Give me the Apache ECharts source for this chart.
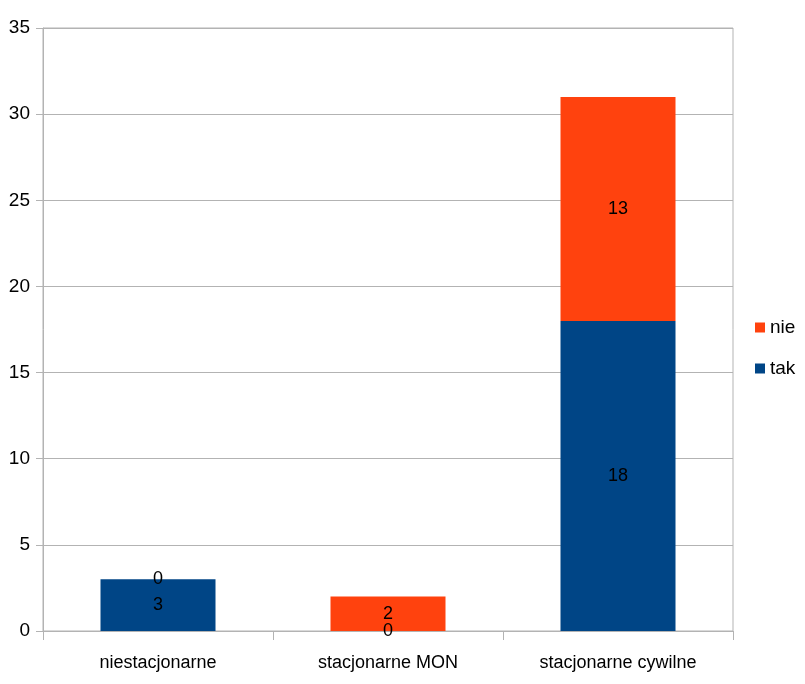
<!DOCTYPE html>
<html><head><meta charset="utf-8">
<script src="https://cdn.jsdelivr.net/npm/echarts@6/dist/echarts.min.js"></script>
<style>html,body{margin:0;padding:0;background:#fff}#c{width:805px;height:684px}</style>
</head><body><div id="c"></div>
<script>
var categories = ['niestacjonarne', 'stacjonarne MON', 'stacjonarne cywilne'];
var takValues = [3, 0, 18];
var nieValues = [0, 2, 13];
var FONT = '"Liberation Sans Narrow", "Liberation Sans", sans-serif';
var chart = echarts.init(document.getElementById('c'));
var lbl = {show: true, position: 'inside', color: '#000', fontFamily: FONT, fontSize: 18};
chart.setOption({
  animation: false,
  textStyle: {fontFamily: FONT},
  grid: {left: 43, right: 72, top: 28, bottom: 53, show: true, borderColor: '#b3b3b3', borderWidth: 1},
  legend: {
    orient: 'vertical', left: 750, top: 313, data: ['nie', 'tak'],
    itemWidth: 10, itemHeight: 10, itemGap: 22, icon: 'rect',
    textStyle: {fontFamily: FONT, fontSize: 19, color: '#000'}
  },
  xAxis: {
    type: 'category', data: categories,
    axisLine: {lineStyle: {color: '#b3b3b3'}},
    axisTick: {show: true, length: 9, lineStyle: {color: '#b3b3b3'}},
    axisLabel: {color: '#000', fontFamily: FONT, fontSize: 18, margin: 23}
  },
  yAxis: {
    type: 'value', min: 0, max: 35, interval: 5,
    axisLine: {show: true, lineStyle: {color: '#b3b3b3'}},
    axisTick: {show: true, length: 7, lineStyle: {color: '#b3b3b3'}},
    splitLine: {lineStyle: {color: '#b3b3b3'}},
    axisLabel: {color: '#000', fontFamily: FONT, fontSize: 19, margin: 13}
  },
  series: [
    {name: 'tak', type: 'bar', stack: 's', data: takValues, barWidth: '50%', itemStyle: {color: '#004586'}, label: lbl},
    {name: 'nie', type: 'bar', stack: 's', data: nieValues, barWidth: '50%', itemStyle: {color: '#ff420e'}, label: lbl}
  ]
});
</script></body></html>
